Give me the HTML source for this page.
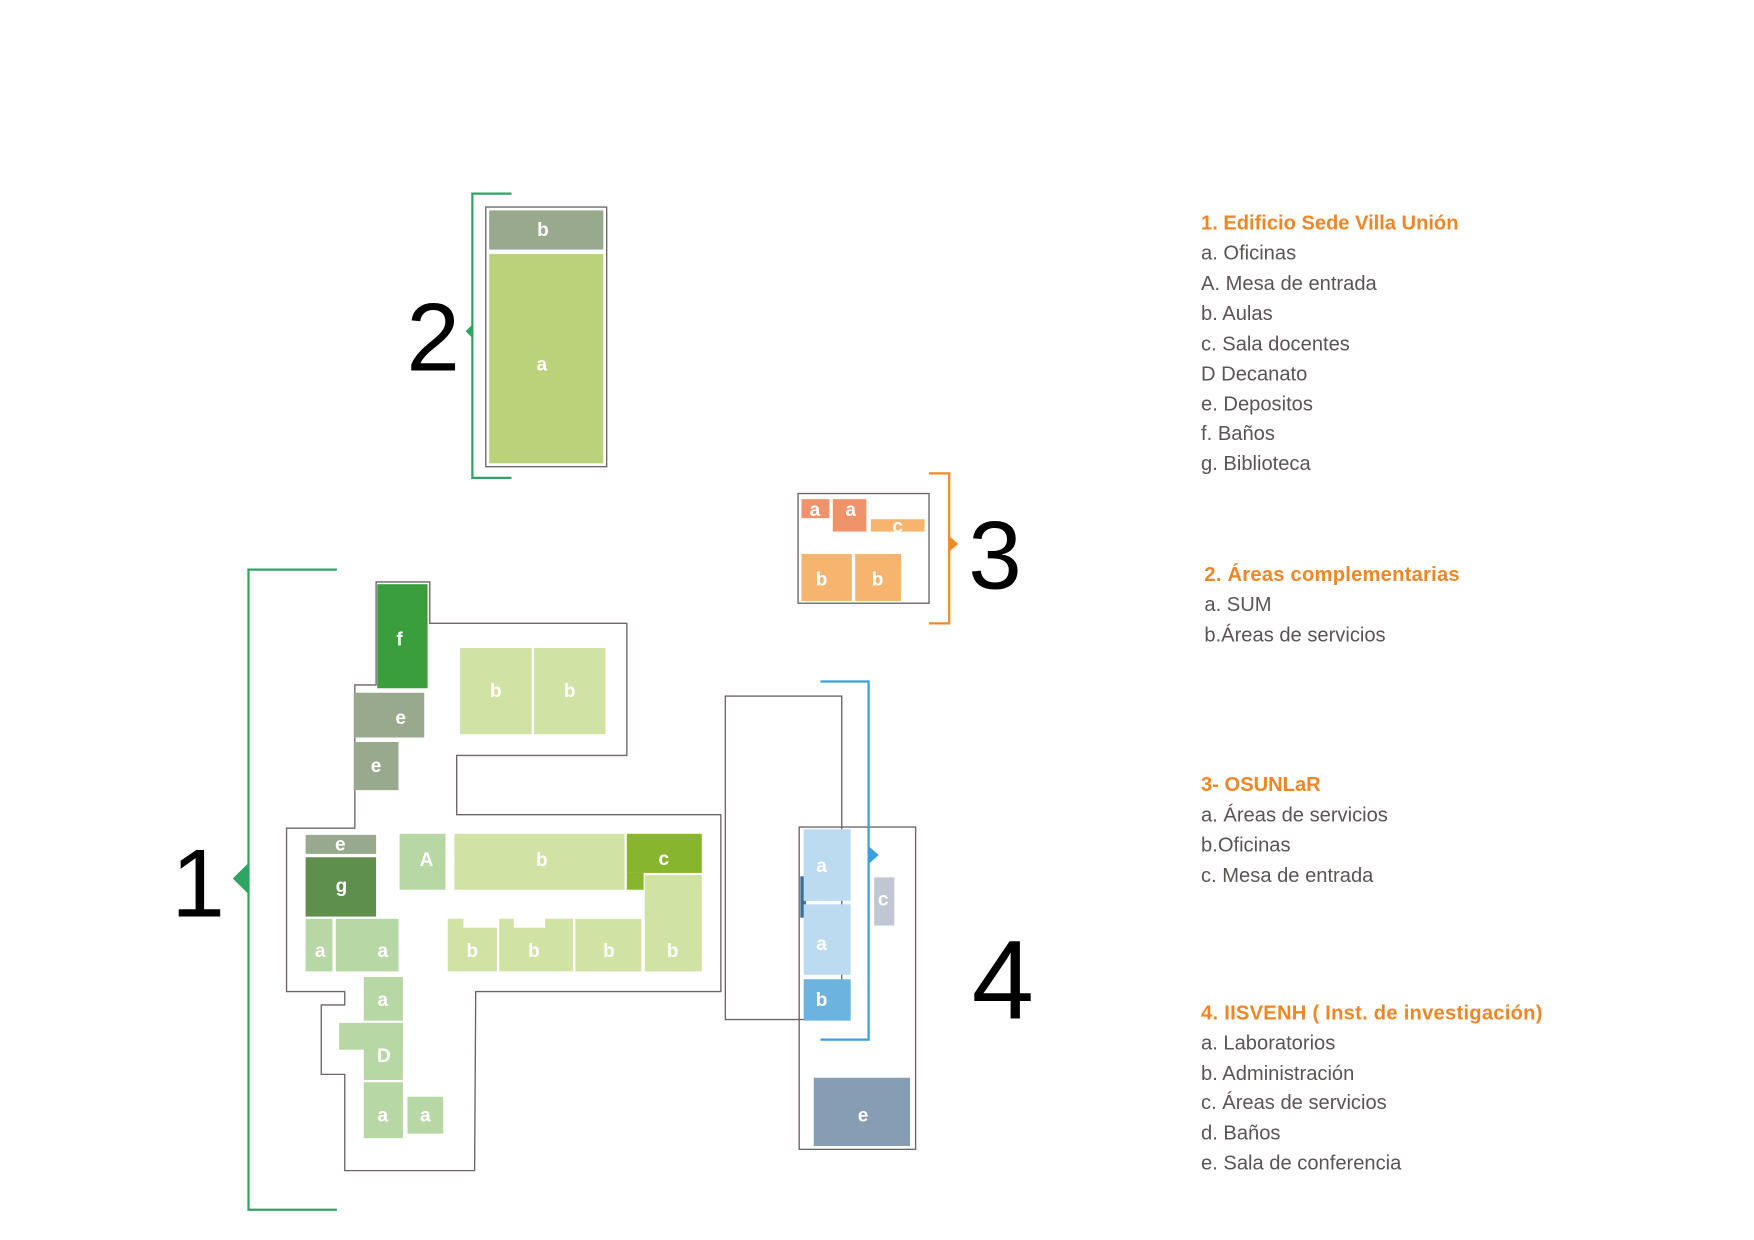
<!DOCTYPE html>
<html><head><meta charset="utf-8"><style>html,body{margin:0;padding:0;background:#fff}svg{display:block}</style></head>
<body>
<svg width="1754" height="1240" viewBox="0 0 1567 1108" preserveAspectRatio="none" xmlns="http://www.w3.org/2000/svg" font-family="Liberation Sans, sans-serif">
<g fill="none" stroke="#6b6565" stroke-width="1.2">
<polygon points="336,520 384,520 384,557 560,557 560,675 408,675 408,728 644,728 644,886 425,886 424,1046 308,1046 308,960 287,960 287,898 308,898 308,886 256,886 256,740 317,740 317,612 336,612"/>
<rect x="434" y="185" width="108" height="232"/>
<rect x="713" y="441" width="117" height="98"/>
<rect x="648" y="622" width="104" height="289"/>
<rect x="714" y="739" width="104" height="288"/>
</g>
<g>
<rect x="337" y="522" width="45" height="93" fill="#3a9e3c"/>
<rect x="316" y="619" width="63" height="40" fill="#98a98d"/>
<rect x="316" y="663" width="40" height="43" fill="#98a98d"/>
<rect x="411" y="579" width="64" height="77" fill="#d1e2a5"/>
<rect x="477" y="579" width="64" height="77" fill="#d1e2a5"/>
<rect x="273" y="746" width="63" height="17" fill="#98a98d"/>
<rect x="273" y="766" width="63" height="53" fill="#5e8f4c"/>
<rect x="273" y="821" width="24" height="47" fill="#b7d8a5"/>
<rect x="300" y="821" width="56" height="47" fill="#b7d8a5"/>
<rect x="357" y="745" width="41" height="50" fill="#b7d8a5"/>
<rect x="406" y="745" width="152" height="50" fill="#d1e2a5"/>
<rect x="560" y="745" width="67" height="35" fill="#87b52e"/>
<rect x="560" y="780" width="15" height="15" fill="#87b52e"/>
<rect x="576" y="782" width="51" height="86" fill="#d1e2a5"/>
<polygon points="400,821 414,821 414,829 444,829 444,868 400,868" fill="#d1e2a5"/>
<polygon points="446,821 459,821 459,829 487,829 487,821 512,821 512,868 446,868" fill="#d1e2a5"/>
<rect x="514" y="821" width="59" height="47" fill="#d1e2a5"/>
<rect x="325" y="873" width="35" height="39" fill="#b7d8a5"/>
<rect x="303" y="914" width="57" height="24" fill="#b7d8a5"/>
<rect x="325" y="914" width="35" height="51" fill="#b7d8a5"/>
<rect x="325" y="967" width="35" height="50" fill="#b7d8a5"/>
<rect x="364" y="980" width="32" height="33" fill="#b7d8a5"/>
</g>
<rect x="437" y="188" width="102" height="35" fill="#98a98d"/>
<rect x="437" y="227" width="102" height="187" fill="#bad37a"/>
<rect x="716" y="446" width="25" height="17" fill="#f0936a"/>
<rect x="744" y="446" width="30" height="29" fill="#f0936a"/>
<rect x="778" y="464" width="48" height="11" fill="#f6b46e"/>
<rect x="716" y="495" width="45" height="42" fill="#f6b46e"/>
<rect x="764" y="495" width="41" height="42" fill="#f6b46e"/>
<rect x="715" y="783" width="5" height="37" fill="#3d6f96"/>
<rect x="718" y="741" width="42" height="64" fill="#bcdaf0"/>
<rect x="718" y="808" width="42" height="63" fill="#bcdaf0"/>
<rect x="718" y="875" width="42" height="37" fill="#6db3e0"/>
<rect x="781" y="784" width="18" height="43" fill="#c0c7d2"/>
<rect x="727" y="963" width="86" height="61" fill="#879db3"/>
<g fill="#fff" font-weight="bold" font-size="17" text-anchor="middle">
<text x="357" y="577">f</text><text x="358" y="647">e</text><text x="336" y="690">e</text>
<text x="443" y="623">b</text><text x="509" y="623">b</text>
<text x="304" y="760">e</text><text x="305" y="797">g</text>
<text x="286" y="855">a</text><text x="342" y="855">a</text>
<text x="381" y="774">A</text><text x="484" y="774">b</text><text x="593" y="773">c</text>
<text x="422" y="855">b</text><text x="477" y="855">b</text><text x="544" y="855">b</text><text x="601" y="855">b</text>
<text x="342" y="899">a</text><text x="343" y="949">D</text><text x="342" y="1002">a</text><text x="380" y="1002">a</text>
<text x="485" y="211">b</text><text x="484" y="331">a</text>
<text x="728" y="461">a</text><text x="760" y="461">a</text><text x="802" y="476">c</text>
<text x="734" y="523">b</text><text x="784" y="523">b</text>
<text x="734" y="779">a</text><text x="734" y="849">a</text><text x="734" y="899">b</text>
<text x="789" y="809">c</text><text x="771" y="1002">e</text>
</g>
<g fill="none" stroke-width="2">
<polyline points="301,509 222,509 222,1081 301,1081" stroke="#2ea564"/>
<polyline points="457,173 422,173 422,427 457,427" stroke="#2ea564"/>
<polyline points="830,423 848,423 848,557 830,557" stroke="#f08a24"/>
<polyline points="733,609 776,609 776,929 733,929" stroke="#3a9fdb"/>
</g>
<polygon points="208,785 222,771 222,799" fill="#2ea564"/>
<polygon points="416,296 422,290 422,302" fill="#2ea564"/>
<polygon points="856,486 848,479 848,493" fill="#f08a24"/>
<polygon points="785,764 776,756 776,772" fill="#3a9fdb"/>
<g fill="#000" font-size="86" text-anchor="middle">
<text x="177" y="819">1</text><text x="387" y="331">2</text><text x="889" y="526">3</text><text x="896" y="910" font-size="100">4</text>
</g>
<g font-size="18" fill="#5a5555">
<text x="1073" y="205" fill="#ef8626" font-weight="bold" textLength="230">1. Edificio Sede Villa Unión</text>
<text x="1073" y="232">a. Oficinas</text>
<text x="1073" y="259">A. Mesa de entrada</text>
<text x="1073" y="286">b. Aulas</text>
<text x="1073" y="313">c. Sala docentes</text>
<text x="1073" y="340">D Decanato</text>
<text x="1073" y="367">e. Depositos</text>
<text x="1073" y="393">f. Baños</text>
<text x="1073" y="420">g. Biblioteca</text>
<text x="1076" y="519" fill="#ef8626" font-weight="bold" textLength="228">2. Áreas complementarias</text>
<text x="1076" y="546">a. SUM</text>
<text x="1076" y="573">b.Áreas de servicios</text>
<text x="1073" y="707" fill="#ef8626" font-weight="bold">3- OSUNLaR</text>
<text x="1073" y="734">a. Áreas de servicios</text>
<text x="1073" y="761">b.Oficinas</text>
<text x="1073" y="788">c. Mesa de entrada</text>
<text x="1073" y="911" fill="#ef8626" font-weight="bold" textLength="305">4. IISVENH ( Inst. de investigación)</text>
<text x="1073" y="938">a. Laboratorios</text>
<text x="1073" y="965">b. Administración</text>
<text x="1073" y="991">c. Áreas de servicios</text>
<text x="1073" y="1018">d. Baños</text>
<text x="1073" y="1045">e. Sala de conferencia</text>
</g>
</svg>
</body></html>
